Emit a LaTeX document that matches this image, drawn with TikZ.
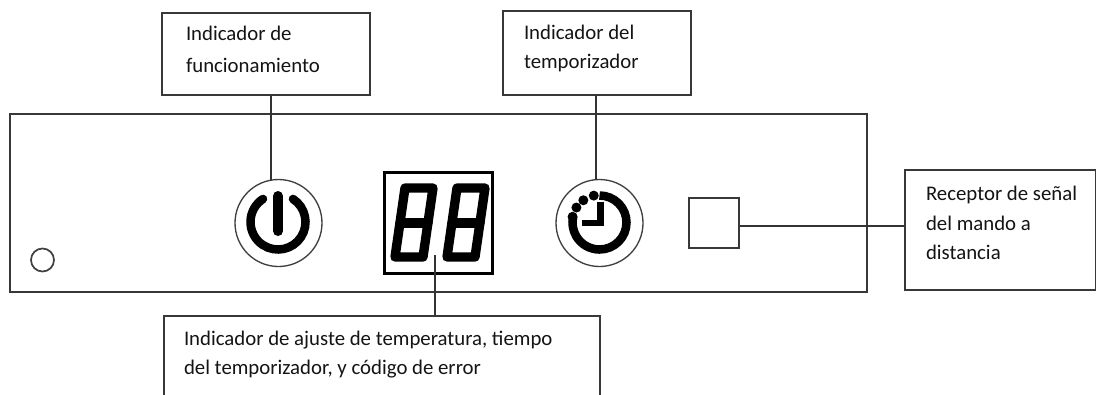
\documentclass[tikz,border=0pt]{standalone}
\usepackage{fontspec}
\setmainfont{Carlito}
\begin{document}
\begin{tikzpicture}[x=0.75pt,y=-0.75pt,
  wire/.style={draw=black!80,line width=2pt},
  box/.style={draw=black!78,line width=0.85pt,fill=white,rectangle,inner sep=0pt,outer sep=0pt},
  ring/.style={draw=black!75,line width=1pt,circle,inner sep=0pt,outer sep=0pt,fill=white},
  lbl/.style={anchor=base west,inner sep=0pt,outer sep=0pt,font=\fontsize{15.6pt}{15.6pt}\selectfont,text=black!92},
  seg/.style={line width=7pt,line join=round,line cap=round,black},
  icon/.style={line width=6.4pt,black}]
\useasboundingbox (0,0) rectangle (1096,394);
\clip (0,0) rectangle (1096,394);
% panel
\node[box,line width=1.3pt,minimum width=857*0.75pt,minimum height=178*0.75pt] (panel) at (438.5,203) {};
% callout boxes
\node[box,minimum width=208*0.75pt,minimum height=82*0.75pt] (b1) at (266,54) {};
\node[box,minimum width=188*0.75pt,minimum height=84*0.75pt] (b2) at (597,53) {};
\node[box,minimum width=191*0.75pt,minimum height=120*0.75pt,anchor=north west] (b3) at (905,170) {};
\node[box,minimum width=436*0.75pt,minimum height=120*0.75pt,anchor=north west] (b4) at (164,316) {};
% controls
\node[ring,minimum size=87*0.75pt] (power) at (278.5,223) {};
\node[ring,minimum size=87*0.75pt] (clock) at (599.5,223) {};
\node[ring,line width=1.3pt,minimum size=23*0.75pt] (led) at (42.5,260) {};
\node[box,line width=1.2pt,minimum width=50*0.75pt,minimum height=50*0.75pt] (recv) at (714,223) {};
\node[box,draw=black,line width=2.6pt,minimum width=108*0.75pt,minimum height=101*0.75pt] (disp) at (438.5,223) {};
% power icon
\begin{scope}[shift={(278,222)},yscale=-1]
  \draw[icon,line cap=round] (57:27.5) arc[start angle=57,end angle=-237,radius=27.5];
  \draw[icon,line width=7.5pt,line cap=round] (0,26) -- (0,-9);
\end{scope}
% clock icon
\begin{scope}[shift={(599.5,222.5)},yscale=-1]
  \draw[icon] (90:27) arc[start angle=90,end angle=-192,radius=27];
  \foreach \a in {102,126,147,168}{\fill (\a:27.5) circle[radius=5];}
  \draw[line width=4.6pt,line join=miter,black] (1,21) -- (1,-0.5) -- (-18,-0.5);
\end{scope}
% seven segments
\foreach \dx in {0,52}{
  \draw[seg,shift={(\dx,0)}] (405,188) -- (433,188) -- (423,257) -- (395,257) -- cycle;
  \draw[seg,shift={(\dx,0)}] (400,223) -- (428,223);
}
\coordinate (dispend) at (435,255);
% connectors
\draw[wire] (b1.south -| 271,0) -- (power.north -| 271,0);
\draw[wire] (b2.south -| 596,0) -- (clock.north -| 596,0);
\draw[wire] (recv.east |- 0,226) -- (b3.west |- 0,226);
\draw[wire] (dispend) -- (b4.north -| dispend);
% labels
\node[lbl] (t1a) at (186,40) {Indicador de};
\node[lbl] (t1b) at (186,72) {funcionamiento};
\node[lbl] (t2a) at (524,39) {Indicador del};
\node[lbl] (t2b) at (524,68) {temporizador};
\node[lbl] (t3a) at (926,200) {Receptor de señal};
\node[lbl] (t3b) at (926,230) {del mando a};
\node[lbl] (t3c) at (926,259) {distancia};
\node[lbl] (t4a) at (184,345) {Indicador de ajuste de temperatura, tiempo};
\node[lbl] (t4b) at (184,374) {del temporizador, y código de error};
\end{tikzpicture}
\end{document}
